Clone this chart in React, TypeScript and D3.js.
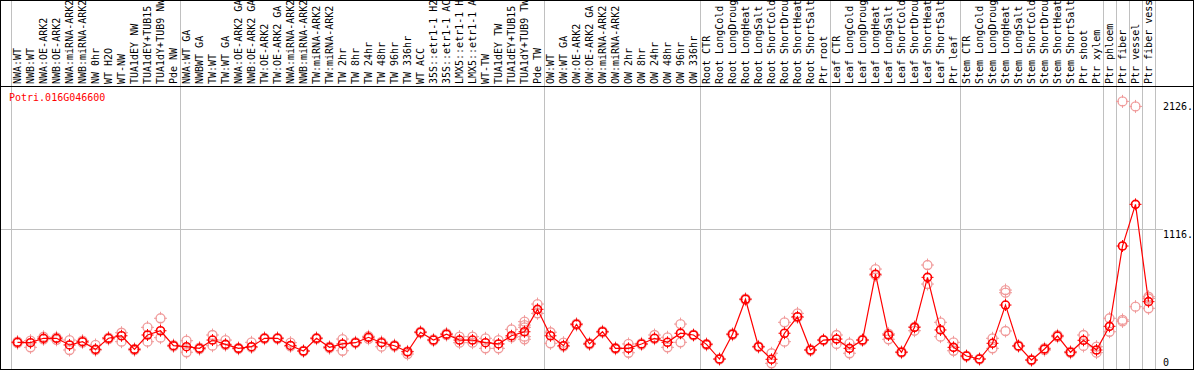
import React from "react";
import * as d3 from "d3";

const labels: string[] = [
  "NWA:WT","NWB:WT","NWA:OE-ARK2","NWB:OE-ARK2","NWA:miRNA-ARK2","NWB:miRNA-ARK2","NW 0hr","WT H2O","WT-NW","TUA1dEY NW","TUA1dEY+TUB15 NW","TUA1dY+TUB9 NW","Pde NW",
  "NWA:WT GA","NWBWT GA","TW:WT","TW:WT GA","NWA:OE-ARK2 GA","NWB:OE-ARK2 GA","TW:OE-ARK2","TW:OE-ARK2 GA","NWA:miRNA-ARK2 GA","NWB:miRNA-ARK2 GA","TW:miRNA-ARK2","TW:miRNA-ARK2 GA","TW 2hr","TW 8hr","TW 24hr","TW 48hr","TW 96hr","TW 336hr","WT ACC","35S::etr1-1 H2O","35S::etr1-1 ACC","LMX5::etr1-1 H2O","LMX5::etr1-1 ACC","WT-TW","TUA1dEY TW","TUA1dEY+TUB15 TW","TUA1dY+TUB9 TW","Pde TW",
  "OW:WT","OW:WT GA","OW:OE-ARK2","OW:OE-ARK2 GA","OW:miRNA-ARK2","OW:miRNA-ARK2 GA","OW 2hr","OW 8hr","OW 24hr","OW 48hr","OW 96hr","OW 336hr",
  "Root CTR","Root LongCold","Root LongDrought","Root LongHeat","Root LongSalt","Root ShortCold","Root ShortDrought","Root ShortHeat","Root ShortSalt","Ptr root",
  "Leaf CTR","Leaf LongCold","Leaf LongDrought","Leaf LongHeat","Leaf LongSalt","Leaf ShortCold","Leaf ShortDrought","Leaf ShortHeat","Leaf ShortSalt","Ptr leaf",
  "Stem CTR","Stem LongCold","Stem LongDrought","Stem LongHeat","Stem LongSalt","Stem ShortCold","Stem ShortDrought","Stem ShortHeat","Stem ShortSalt","Ptr shoot","Ptr xylem",
  "Ptr phloem","Ptr fiber","Ptr vessel","Ptr fiber vessel",
];

const means: number[] = [
  212,209,244,244,191,217,156,244,264,156,270,304,185,
  177,164,230,196,164,177,244,244,187,143,244,172,199,209,252,209,185,137,292,230,276,230,230,209,199,264,296,474,
  264,185,355,200,296,164,164,199,244,212,284,270,
  196,79,276,554,177,77,284,415,151,230,
  238,164,230,753,270,133,331,728,310,172,
  103,79,204,508,183,71,159,262,133,228,151,
  339,977,1308,535,
];

const replicates: number[][] = [
  [205,218],[172,225],[236,256],[232,252],[230,151],[210,225],[191,150],[238,250],[288,217],[150,160],[331,217],[403,249],[180,190],
  [225,133],[158,170],[270,185],[230,190],[160,168],[212,172],[240,248],[240,248],[209,180],[140,146],[240,248],[177,165],[238,145],[205,213],[260,240],[177,215],[180,190],[119,140],[288,296],[225,235],[283,270],[257,209],[257,209],[244,164],[230,164],[315,252],[376,349,331,257,236],[516,442],
  [292,204],[209,180],[360,350],[205,195],[300,292],[168,160],[199,129],[204,194],[270,240],[252,172],[357,212],[272,268],
  [200,192],[82,76],[280,272],[558,550],[180,174],[125,45],[371,217],[442,410],[155,147],[232,228],
  [270,199],[204,125],[234,226],[794,745],[280,236],[137,130],[335,304],[826,675],[371,257],[212,145],
  [106,100],[82,76],[244,164],[627,606,302],[187,180],[75,68],[165,150],[268,256],[138,128],[270,183],[177,130],
  [403,296],[2126,390,378],[2086,495],[574,560,482],
];

const groupBreaks: number[] = [0, 13, 41, 53, 63, 73, 84, 85, 86, 87, 88];
const geneName = "Potri.016G046600";
const tickValues: number[] = [2126, 1116, 0];
const tickLabels: string[] = ["2126.", "1116.", "0"];
const gridValue = 1116;

const W = 1194;
const H = 370;
const FONT = "'DejaVu Sans Mono', monospace";

export default function App() {
  const n = labels.length;
  const x = d3.scaleLinear().domain([0, n]).range([11, 1155]);
  const colW = x(1) - x(0);
  const cx = (i: number) => x(i) + colW / 2;
  const maxVal = d3.max(replicates.flat().concat(means)) as number;
  const y = d3.scaleLinear().domain([0, maxVal * 1.05]).range([369, 88]);
  const line = d3
    .line<number>()
    .x((_, i) => cx(i))
    .y((d) => y(d));

  const tick = (px: number, py: number, r: number, color: string, key: string) => (
    <g key={key} stroke={color}>
      <line x1={px} x2={px} y1={py - r - 2} y2={py - r + 1} strokeWidth={1} />
      <line x1={px} x2={px} y1={py + r - 1} y2={py + r + 2} strokeWidth={1} />
      <line x1={px - r - 2} x2={px - r + 1} y1={py} y2={py} strokeWidth={1} />
      <line x1={px + r - 1} x2={px + r + 2} y1={py} y2={py} strokeWidth={1} />
    </g>
  );

  return (
    <svg
      width={W}
      height={H}
      style={{ position: "absolute", left: 0, top: 0, background: "#fff" }}
      fontFamily={FONT}
    >
      <rect x={0} y={0} width={W} height={H} fill="#fff" />
      {/* group separators */}
      {groupBreaks.map((b) => (
        <line key={"g" + b} x1={x(b) + 0.5} x2={x(b) + 0.5} y1={0} y2={369} stroke="#c0c0c0" strokeWidth={1} />
      ))}
      {/* grid line */}
      <line x1={1} x2={1163} y1={Math.round(y(gridValue)) + 0.5} y2={Math.round(y(gridValue)) + 0.5} stroke="#c0c0c0" strokeWidth={1} />
      {/* header labels */}
      {labels.map((l, i) => (
        <text
          key={"l" + i}
          transform={`translate(${cx(i) + 3.5},84) rotate(-90)`}
          fontSize={10}
          fill="#000"
        >
          {l}
        </text>
      ))}
      {/* header line */}
      <line x1={0} x2={W} y1={86.5} y2={86.5} stroke="#000" strokeWidth={1} />
      {/* title */}
      <text x={9} y={101} fontSize={10} fill="#ff0000">
        {geneName}
      </text>
      {/* right axis labels */}
      {tickValues.map((v, i) => (
        <text key={"t" + i} x={1163} y={v === 0 ? y(v) - 3 : y(v) + 9} fontSize={10} fill="#000">
          {tickLabels[i]}
        </text>
      ))}
      {/* replicates */}
      {replicates.map((reps, i) =>
        reps.map((v, j) => (
          <g key={`r${i}-${j}`}>
            <circle cx={cx(i)} cy={y(v)} r={4.5} fill="none" stroke="#f09a9a" strokeWidth={1.3} />
            {tick(cx(i), y(v), 4.5, "#f09a9a", `rt${i}-${j}`)}
          </g>
        ))
      )}
      {/* mean line */}
      <path d={line(means) || ""} fill="none" stroke="#ff0000" strokeWidth={1.2} />
      {/* means */}
      {means.map((v, i) => (
        <g key={"m" + i}>
          <circle cx={cx(i)} cy={y(v)} r={4} fill="none" stroke="#ff0000" strokeWidth={1.6} />
          {tick(cx(i), y(v), 4, "#ff0000", "mt" + i)}
        </g>
      ))}
      {/* frame */}
      <rect x={0.5} y={0.5} width={W - 1} height={369} fill="none" stroke="#000" strokeWidth={1} />
    </svg>
  );
}
